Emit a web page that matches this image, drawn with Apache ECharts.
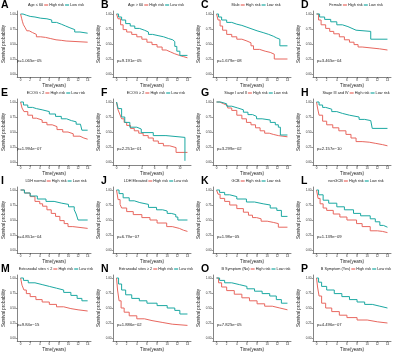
<!DOCTYPE html>
<html>
<head>
<meta charset="utf-8">
<script src="https://cdn.jsdelivr.net/npm/echarts@6/dist/echarts.min.js"></script>
<style>
html, body { margin: 0; padding: 0; background: #fff; }
#main { width: 400px; height: 353px; }
</style>
</head>
<body>
<div id="main"></div>
<script>
// panel labels and subgroup names
const letters = ['A','B','C','D','E','F','G','H','I','J','K','L','M','N','O','P'];
const groups = ['Age \u2264 60','Age > 60','Male','Female','ECOG < 2','ECOG \u2265 2','Stage I and II','Stage III and IV',
  'LDH normal','LDH Elevated','GCB','nonGCB','Extranodal sites < 2','Extranodal sites \u2265 2','B Symptom (No)','B Symptom (Yes)'];
const pValues = ['p=1.065e\u221205','p=9.191e\u221205','p=1.679e\u221208','p=3.465e\u221204','p=1.994e\u221207','p=2.251e\u221201',
  'p=3.299e\u221202','p=2.157e\u221210','p=4.851e\u221204','p=6.79e\u221207','p=1.98e\u221205','p=1.139e\u221209',
  'p=9.84e\u221215','p=1.886e\u221202','p=7.825e\u221205','p=4.496e\u221207'];

const xTicks = [0, 2, 4, 6, 8, 10, 12, 14];
const xTicksShort = [0, 2, 4, 6, 8, 10];
const yTicks = [0, 0.25, 0.5, 0.75, 1];

// Kaplan-Meier curves, [time, survival]
const aHigh = [[0,1],[0.2,0.93],[0.4,0.87],[0.6,0.82],[0.9,0.78],[1.3,0.72],[1.8,0.69],[2.5,0.66],[3.3,0.62],[4.2,0.61],[5.2,0.59],[6.3,0.57],[7.4,0.56],[8.6,0.55],[9.5,0.53],[14,0.53]];
const aLow = [[0,1],[0.5,0.98],[1.2,0.96],[2,0.95],[3,0.93],[4.2,0.92],[5.5,0.9],[6.5,0.86],[7.5,0.83],[8.5,0.8],[9.4,0.77],[10.3,0.74],[11.3,0.7],[12.4,0.68],[14,0.68]];
const bHigh = [[0,1],[0.3,0.92],[0.8,0.82],[1.3,0.74],[2,0.7],[3,0.66],[4,0.62],[5,0.58],[6,0.53],[7,0.49],[8,0.45],[9,0.4],[9.8,0.37],[10.6,0.34],[11.4,0.31],[12.4,0.29],[13.2,0.27],[14,0.27]];
const bLow = [[0,1],[0.4,0.95],[1,0.9],[1.8,0.84],[2.7,0.8],[3.6,0.76],[4.5,0.73],[5.5,0.7],[6.3,0.66],[7.1,0.64],[8.2,0.62],[9.3,0.59],[10.3,0.57],[11.1,0.54],[11.5,0.46],[11.9,0.38],[12.5,0.31],[14,0.31]];
const cHigh = [[0,1],[0.3,0.9],[0.7,0.8],[1.2,0.73],[2,0.66],[3,0.62],[4,0.58],[5,0.55],[6,0.52],[6.8,0.47],[7.3,0.41],[8.5,0.38],[9.6,0.36],[10.6,0.33],[11.4,0.25],[14,0.25]];
const cLow = [[0,1],[0.4,0.95],[1,0.9],[2,0.86],[3,0.83],[4,0.81],[5,0.78],[6,0.75],[7,0.72],[8,0.69],[9.2,0.66],[10.3,0.63],[11.2,0.6],[11.9,0.58],[12.5,0.47],[14,0.47]];
const dHigh = [[0,1],[0.4,0.9],[0.9,0.82],[1.8,0.76],[2.6,0.71],[3.4,0.67],[4.5,0.62],[5.5,0.57],[6.5,0.53],[7.4,0.49],[8.2,0.45],[9,0.42],[12.4,0.4],[14,0.4]];
const dLow = [[0,1],[0.6,0.95],[1.6,0.91],[2.8,0.87],[4,0.82],[5.1,0.79],[6.2,0.76],[7,0.73],[7.8,0.71],[10.7,0.58],[14,0.58]];
const eHigh = [[0,1],[0.3,0.9],[0.7,0.84],[1.5,0.78],[2.5,0.73],[3.3,0.7],[4.5,0.66],[5.5,0.62],[6.6,0.59],[7.6,0.54],[8.8,0.5],[9.9,0.47],[11,0.43],[12.4,0.4],[13.2,0.38],[14,0.38]];
const eLow = [[0,1],[0.6,0.95],[1.5,0.91],[2.5,0.89],[3.3,0.87],[4.5,0.84],[6,0.8],[7.3,0.76],[8.5,0.72],[9.6,0.69],[10.6,0.67],[11.6,0.63],[12.5,0.61],[12.8,0.53],[14,0.53]];
const fHigh = [[0,1],[0.2,0.88],[0.5,0.8],[0.8,0.72],[1.2,0.66],[1.6,0.61],[2.2,0.56],[2.8,0.52],[3.5,0.48],[4.2,0.44],[5,0.4],[5.8,0.35],[6.6,0.31],[7.4,0.27],[8.4,0.24],[9.4,0.16],[11.2,0.16]];
const fLow = [[0,1],[0.26,0.89],[0.8,0.75],[1.3,0.66],[2.1,0.58],[3.2,0.55],[3.9,0.49],[5.8,0.44],[7.8,0.41],[10.8,0.02]];
const gHigh = [[0,1],[0.6,0.97],[1.4,0.94],[2.2,0.9],[3,0.86],[4,0.78],[5,0.72],[5.9,0.66],[6.8,0.62],[7.7,0.57],[8.6,0.52],[9.5,0.48],[10.4,0.46],[11.2,0.44],[12.2,0.42],[14,0.42]];
const gLow = [[0,1],[0.8,0.97],[2,0.93],[3,0.9],[4.2,0.87],[5.3,0.83],[6.2,0.79],[7.1,0.76],[7.9,0.72],[9,0.7],[10.6,0.66],[11.6,0.62],[12.2,0.58],[12.6,0.45],[14,0.45]];
const hHigh = [[0,1],[0.2,0.9],[0.5,0.78],[1.2,0.68],[2,0.62],[3.2,0.57],[4.4,0.52],[5.8,0.46],[6.8,0.4],[7.8,0.34],[9,0.33],[10.4,0.31],[11.7,0.29],[13,0.27],[14,0.27]];
const hLow = [[0,1],[0.5,0.95],[1.2,0.91],[1.8,0.88],[3,0.84],[4,0.81],[5.1,0.78],[6.5,0.75],[8.4,0.71],[9.5,0.69],[10.7,0.66],[11,0.56],[14,0.56]];
const iHigh = [[0,1],[0.8,0.95],[2,0.89],[3,0.81],[4,0.77],[4.6,0.73],[5.5,0.67],[6.4,0.61],[7.3,0.56],[8.2,0.49],[9.1,0.44],[9.9,0.39],[10.9,0.36],[14,0.36]];
const iLow = [[0,1],[0.8,0.95],[2,0.9],[3.5,0.85],[5.3,0.81],[7,0.78],[8.6,0.76],[10,0.72],[11.2,0.67],[11.6,0.6],[12,0.5],[14,0.5]];
const jHigh = [[0,1],[0.3,0.84],[0.7,0.76],[1,0.7],[2,0.64],[3.3,0.59],[5,0.54],[6.6,0.5],[8,0.45],[9.9,0.39],[11,0.36],[12.4,0.33],[13.2,0.31],[14,0.3]];
const jLow = [[0,1],[0.5,0.94],[1.3,0.87],[2.5,0.82],[3.5,0.79],[4.6,0.76],[6.3,0.71],[7.9,0.67],[9.1,0.65],[10,0.61],[10.8,0.59],[11.7,0.55],[12.1,0.5],[14,0.5]];
const kHigh = [[0,1],[0.3,0.93],[0.7,0.86],[1.6,0.81],[2.6,0.75],[4,0.69],[5.3,0.63],[6.3,0.58],[7.1,0.54],[7.9,0.52],[8.8,0.48],[10,0.46],[11.2,0.44],[12.2,0.38],[14,0.38]];
const kLow = [[0,1],[0.6,0.96],[1.6,0.92],[2.6,0.89],[4,0.85],[5.9,0.8],[7.5,0.77],[9.2,0.75],[10.6,0.7],[11.9,0.66],[12.8,0.56],[14,0.56]];
const lHigh = [[0,1],[0.3,0.86],[0.7,0.77],[1.3,0.7],[2,0.66],[3.3,0.6],[4.6,0.55],[6,0.5],[7.9,0.44],[9,0.39],[10.6,0.32],[12,0.31],[13,0.29],[14,0.29]];
const lLow = [[0,1],[0.4,0.92],[1.3,0.83],[2.4,0.78],[4,0.72],[5.5,0.67],[7.3,0.61],[8.7,0.57],[10.6,0.52],[11.6,0.47],[12.5,0.41],[13.2,0.38],[14,0.38]];
const mHigh = [[0,1],[0.3,0.88],[0.7,0.8],[1.2,0.74],[2,0.69],[3.2,0.64],[4.5,0.6],[6,0.56],[7.5,0.52],[9,0.49],[10.5,0.47],[12,0.45],[14,0.45]];
const mLow = [[0,1],[0.6,0.96],[1.6,0.92],[3,0.89],[4.5,0.86],[6,0.83],[7.5,0.8],[9,0.76],[10.5,0.71],[11.8,0.66],[12.8,0.62],[14,0.62]];
const nHigh = [[0,1],[0.2,0.8],[0.5,0.62],[0.9,0.5],[1.5,0.43],[2.5,0.37],[4,0.32],[5.5,0.29],[7,0.26],[9,0.23],[11,0.21],[14,0.2]];
const nLow = [[0,1],[0.4,0.9],[1,0.8],[1.8,0.72],[3,0.66],[4.5,0.62],[6,0.58],[8,0.54],[10,0.5],[11.5,0.46],[12.5,0.4],[14,0.4]];
const oHigh = [[0,1],[0.4,0.92],[1,0.85],[2,0.79],[3.5,0.73],[5,0.67],[6.5,0.62],[8,0.57],[9.5,0.53],[11,0.5],[12.5,0.47],[14,0.46]];
const oLow = [[0,1],[0.6,0.96],[1.6,0.92],[3,0.89],[4.5,0.86],[6,0.82],[7.5,0.78],[9,0.74],[10.5,0.7],[11.8,0.64],[12.8,0.58],[14,0.58]];
const pHigh = [[0,1],[0.2,0.85],[0.5,0.7],[1,0.58],[1.8,0.5],[3,0.44],[4.5,0.38],[6,0.34],[8,0.3],[10,0.27],[12,0.25],[14,0.24]];
const pLow = [[0,1],[0.4,0.93],[1,0.86],[2,0.8],[3.5,0.74],[5,0.69],[6.5,0.64],[8,0.6],[9.5,0.56],[11,0.53],[12.5,0.5],[14,0.5]];

const highRisk = [aHigh,bHigh,cHigh,dHigh,eHigh,fHigh,gHigh,hHigh,iHigh,jHigh,kHigh,lHigh,mHigh,nHigh,oHigh,pHigh];
const lowRisk = [aLow,bLow,cLow,dLow,eLow,fLow,gLow,hLow,iLow,jLow,kLow,lLow,mLow,nLow,oLow,pLow];

const RED = '#e8675f';
const TEAL = '#1ba8a2';
const FONT = 'Liberation Sans';

const chart = echarts.init(document.getElementById('main'), null, { renderer: 'canvas' });

let grids = [], xAxes = [], yAxes = [], series = [], titles = [];

for (let i = 0; i < 16; i++) {
    let px = (i % 4) * 100;
    let py = Math.floor(i / 4) * 88;
    let short = letters[i] === 'F';
    let ticks = short ? xTicksShort : xTicks;
    let xmax = short ? 11.2 : 14;

    grids.push({ left: px + 13, top: py + 11, width: 78, height: 66 });

    xAxes.push({
        gridIndex: i, type: 'value',
        min: -xmax * 0.05, max: xmax * 1.05,
        axisLine: { show: true, onZero: false, lineStyle: { color: '#333', width: 0.6 } },
        axisTick: { show: true, length: 1.5, customValues: ticks, lineStyle: { color: '#333', width: 0.5 } },
        axisLabel: { customValues: ticks, fontSize: 3, margin: 1.5, color: '#333', fontFamily: FONT },
        splitLine: { show: false },
        name: 'Time(years)', nameLocation: 'middle', nameGap: 6,
        nameTextStyle: { fontSize: 4.5, color: '#222', fontFamily: FONT }
    });

    yAxes.push({
        gridIndex: i, type: 'value',
        min: -0.05, max: 1.05,
        axisLine: { show: true, onZero: false, lineStyle: { color: '#333', width: 0.6 } },
        axisTick: { show: true, length: 1.5, customValues: yTicks, lineStyle: { color: '#333', width: 0.5 } },
        axisLabel: { customValues: yTicks, fontSize: 3, margin: 1.5, color: '#333', fontFamily: FONT,
            formatter: v => v.toFixed(2) },
        splitLine: { show: false },
        name: 'Survival probability', nameLocation: 'middle', nameGap: 7,
        nameTextStyle: { fontSize: 4.5, color: '#222', fontFamily: FONT }
    });

    series.push({
        name: 'High risk', type: 'line', xAxisIndex: i, yAxisIndex: i,
        step: 'end', showSymbol: false, animation: false,
        lineStyle: { color: RED, width: 1 }, itemStyle: { color: RED },
        data: highRisk[i]
    });
    series.push({
        name: 'Low risk', type: 'line', xAxisIndex: i, yAxisIndex: i,
        step: 'end', showSymbol: false, animation: false,
        lineStyle: { color: TEAL, width: 1 }, itemStyle: { color: TEAL },
        data: lowRisk[i]
    });

    // panel letter
    titles.push({
        text: letters[i], left: px + 1, top: py, padding: 0,
        textStyle: { fontSize: 10.5, fontWeight: 'bold', color: '#000', fontFamily: FONT }
    });
    // legend line
    titles.push({
        text: groups[i] + ' {h|} High risk {l|} Low risk',
        left: px + 56, top: py + 3, padding: 0, textAlign: 'center',
        textStyle: {
            fontSize: 3.8, fontWeight: 'normal', color: '#222', fontFamily: FONT,
            rich: {
                h: { width: 4, height: 1.2, backgroundColor: RED, verticalAlign: 'middle' },
                l: { width: 4, height: 1.2, backgroundColor: TEAL, verticalAlign: 'middle' }
            }
        }
    });
    // p-value
    titles.push({
        text: pValues[i], left: px + 17, top: py + 59, padding: 0,
        textStyle: { fontSize: 4.2, fontWeight: 'normal', color: '#222', fontFamily: FONT }
    });
}

chart.setOption({
    animation: false,
    backgroundColor: '#fff',
    title: titles,
    grid: grids,
    xAxis: xAxes,
    yAxis: yAxes,
    series: series
});
</script>
</body>
</html>
